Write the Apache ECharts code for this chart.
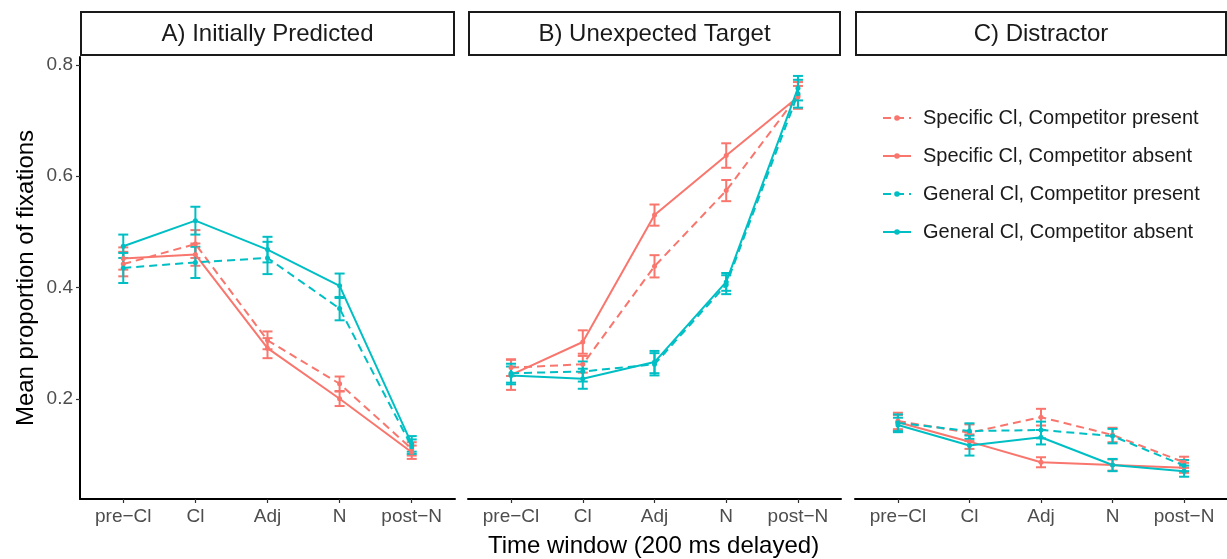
<!DOCTYPE html>
<html>
<head>
<meta charset="utf-8">
<script src="https://cdn.jsdelivr.net/npm/echarts@6/dist/echarts.min.js"></script>
<style>
  html, body { margin: 0; padding: 0; background: #fff; }
  #chart { width: 1227px; height: 559px; }
</style>
</head>
<body>
<div id="chart"></div>
<script>
// categories and labels
var timeWindows = ['pre\u2212Cl', 'Cl', 'Adj', 'N', 'post\u2212N'];
var panelTitles = ['A) Initially Predicted', 'B) Unexpected Target', 'C) Distractor'];
var groupNames = [
    'Specific Cl, Competitor present',
    'Specific Cl, Competitor absent',
    'General Cl, Competitor present',
    'General Cl, Competitor absent'
];
var yTicks = [0.2, 0.4, 0.6, 0.8];

// means, one row per group (same order as groupNames)
var initialMeans = [
    [0.442, 0.478, 0.305, 0.227, 0.110],
    [0.452, 0.459, 0.291, 0.200, 0.104],
    [0.435, 0.445, 0.453, 0.362, 0.114],
    [0.474, 0.520, 0.468, 0.403, 0.119]
];
var unexpectedMeans = [
    [0.256, 0.262, 0.438, 0.574, 0.745],
    [0.243, 0.302, 0.530, 0.637, 0.742],
    [0.246, 0.249, 0.262, 0.405, 0.748],
    [0.242, 0.236, 0.266, 0.410, 0.758]
];
var distractorMeans = [
    [0.160, 0.139, 0.167, 0.135, 0.086],
    [0.158, 0.123, 0.086, 0.081, 0.076],
    [0.157, 0.142, 0.144, 0.133, 0.080],
    [0.153, 0.116, 0.131, 0.081, 0.070]
];

// error bar half widths
var initialErr = [
    [0.022, 0.025, 0.016, 0.013, 0.012],
    [0.020, 0.020, 0.018, 0.013, 0.012],
    [0.027, 0.028, 0.029, 0.021, 0.013],
    [0.021, 0.025, 0.023, 0.022, 0.014]
];
var unexpectedErr = [
    [0.015, 0.015, 0.020, 0.019, 0.024],
    [0.027, 0.021, 0.019, 0.022, 0.020],
    [0.017, 0.018, 0.020, 0.017, 0.025],
    [0.016, 0.018, 0.020, 0.016, 0.022]
];
var distractorErr = [
    [0.015, 0.015, 0.015, 0.013, 0.010],
    [0.013, 0.013, 0.009, 0.010, 0.009],
    [0.015, 0.014, 0.015, 0.013, 0.010],
    [0.013, 0.018, 0.013, 0.011, 0.010]
];

var panelMeans = [initialMeans, unexpectedMeans, distractorMeans];
var panelErr = [initialErr, unexpectedErr, distractorErr];

var groupColors = ['#F8766D', '#F8766D', '#00BFC4', '#00BFC4'];
var groupDashed = [true, false, true, false];

var FONT = "'Liberation Sans', Arial, Helvetica, sans-serif";
var panelLeft = [80, 468, 855];
var panelWidth = [375, 373, 372];
var panelTop = 57, panelBottom = 60;

var dom = document.getElementById('chart');
var chart = echarts.init(dom, null, { renderer: 'canvas' });

function errorBarRenderer(color) {
    return function (params, api) {
        var x = api.value(0);
        var pLo = api.coord([x, api.value(1)]);
        var pHi = api.coord([x, api.value(2)]);
        var hw = 5;
        var st = { stroke: color, lineWidth: 2 };
        return {
            type: 'group',
            children: [
                { type: 'line', shape: { x1: pLo[0], y1: pLo[1], x2: pHi[0], y2: pHi[1] }, style: st },
                { type: 'line', shape: { x1: pLo[0] - hw, y1: pLo[1], x2: pLo[0] + hw, y2: pLo[1] }, style: st },
                { type: 'line', shape: { x1: pHi[0] - hw, y1: pHi[1], x2: pHi[0] + hw, y2: pHi[1] }, style: st }
            ]
        };
    };
}

var grids = [], xAxes = [], yAxes = [], series = [], graphics = [];

for (var p = 0; p < 3; p++) {
    grids.push({ left: panelLeft[p], width: panelWidth[p], top: panelTop, bottom: panelBottom });

    xAxes.push({
        type: 'value', gridIndex: p, min: -0.6, max: 4.6,
        splitLine: { show: false },
        axisLine: { show: true, onZero: false, lineStyle: { color: '#000', width: 2 } },
        axisTick: { show: true, length: 4, customValues: [0, 1, 2, 3, 4], lineStyle: { color: '#333', width: 1.2 } },
        axisLabel: {
            customValues: [0, 1, 2, 3, 4], margin: 8,
            color: '#4D4D4D', fontSize: 19, fontFamily: FONT,
            formatter: function (v) { return timeWindows[Math.round(v)]; }
        }
    });

    yAxes.push({
        type: 'value', gridIndex: p, min: 0.02, max: 0.814,
        show: p === 0,
        splitLine: { show: false },
        name: p === 0 ? 'Mean proportion of fixations' : '',
        nameLocation: 'middle', nameGap: 42,
        nameTextStyle: { color: '#000', fontSize: 24, fontFamily: FONT },
        axisLine: { show: true, onZero: false, lineStyle: { color: '#000', width: 2 } },
        axisTick: { show: true, length: 4, customValues: yTicks, lineStyle: { color: '#333', width: 1.2 } },
        axisLabel: {
            customValues: yTicks, margin: 7,
            color: '#4D4D4D', fontSize: 19, fontFamily: FONT,
            formatter: function (v) { return v.toFixed(1); }
        }
    });

    // error bars first so lines and points draw over them
    for (var g = 0; g < 4; g++) {
        var means = panelMeans[p][g], errs = panelErr[p][g];
        series.push({
            name: groupNames[g] + ' (err ' + p + ')',
            type: 'custom', xAxisIndex: p, yAxisIndex: p,
            renderItem: errorBarRenderer(groupColors[g]),
            encode: { x: 0, y: [1, 2] },
            data: means.map(function (m, i) { return [i, m - errs[i], m + errs[i]]; }),
            z: 2, silent: true
        });
    }
    for (var g2 = 0; g2 < 4; g2++) {
        series.push({
            name: groupNames[g2],
            type: 'line', xAxisIndex: p, yAxisIndex: p,
            data: panelMeans[p][g2].map(function (m, i) { return [i, m]; }),
            symbol: 'circle', symbolSize: 5, showSymbol: true,
            itemStyle: { color: groupColors[g2] },
            lineStyle: { color: groupColors[g2], width: 2, type: groupDashed[g2] ? [8, 5] : 'solid' },
            z: 3, silent: true
        });
    }

    // facet strip
    graphics.push({
        type: 'rect',
        shape: { x: panelLeft[p] + 1, y: 12, width: panelWidth[p] - 2, height: 43 },
        style: { fill: '#fff', stroke: '#1a1a1a', lineWidth: 2 }
    });
    graphics.push({
        type: 'text',
        x: panelLeft[p] + panelWidth[p] / 2, y: 34,
        style: {
            text: panelTitles[p], fill: '#1a1a1a', font: '24px ' + FONT,
            align: 'center', verticalAlign: 'middle'
        }
    });
}

graphics.push({
    type: 'text',
    x: (panelLeft[0] + panelLeft[2] + panelWidth[2]) / 2, y: 546,
    style: {
        text: 'Time window (200 ms delayed)', fill: '#000', font: '24px ' + FONT,
        align: 'center', verticalAlign: 'middle'
    }
});

chart.setOption({
    animation: false,
    backgroundColor: '#fff',
    grid: grids,
    xAxis: xAxes,
    yAxis: yAxes,
    legend: {
        data: groupNames,
        orient: 'vertical',
        left: 877, top: 103,
        itemWidth: 28, itemHeight: 7, itemGap: 18,
        textStyle: { color: '#1a1a1a', fontSize: 20, lineHeight: 20, fontFamily: FONT, padding: [0, 0, 0, 7] }
    },
    graphic: graphics,
    series: series
});

window.addEventListener('resize', chart.resize);
</script>
</body>
</html>
